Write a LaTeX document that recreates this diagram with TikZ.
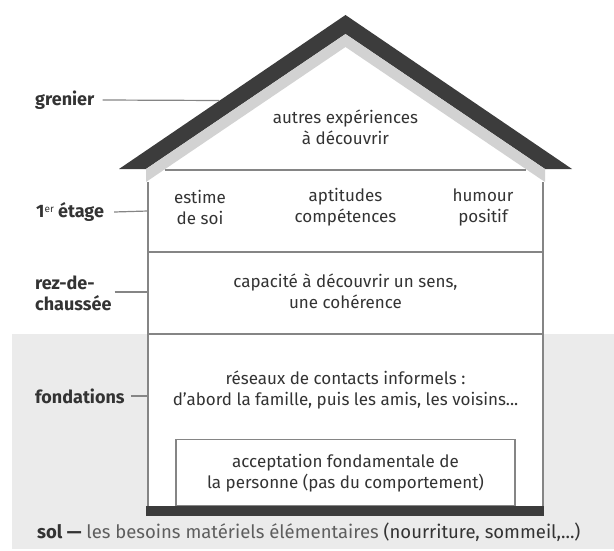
\documentclass[tikz,border=0pt]{standalone}
\usepackage{fontspec}
\setmainfont{Fira Sans}
\definecolor{txt}{HTML}{333333}
\definecolor{lightxt}{HTML}{5E5E5E}
\definecolor{linegray}{HTML}{858585}
\definecolor{roofdark}{HTML}{3C3C3C}
\definecolor{roofmid}{HTML}{D2D2D2}
\definecolor{bggray}{HTML}{EBEBEB}
\tikzset{
  body/.style={font=\fontsize{17}{21}\selectfont, text=txt, align=center, inner sep=0pt},
  lab/.style={font=\fontsize{18}{21}\selectfont\bfseries, text=txt, align=left, anchor=west, inner sep=0pt},
  wall/.style={draw=linegray, line width=1.4pt},
  tick/.style={draw=linegray, line width=1.2pt},
}
\begin{document}
\begin{tikzpicture}[x=1pt,y=-1pt]
\useasboundingbox (0,0) rectangle (614,551);
% ground background
\fill[bggray] (12,334) rectangle (614,549);
% house interior
\fill[white] (148,170) rectangle (543,506);
% roof
\fill[roofdark] (345.5,15) -- (119,169) -- (146,169) -- (345.5,34) -- (545,169) -- (572,169) -- cycle;
\fill[roofmid] (146,169) -- (345.5,34) -- (545,169) -- (545,182) -- (345.5,47) -- (146,182) -- cycle;
% coordinates
\coordinate (cl) at (164.9,170);
\coordinate (cr) at (526.1,170);
\coordinate (wlt) at (148,182);
\coordinate (wrt) at (543,182);
\coordinate (wlb) at (148,506);
\coordinate (wrb) at (543,506);
\coordinate (f1l) at (148,252);
\coordinate (f1r) at (543,252);
\coordinate (f2l) at (148,334);
\coordinate (f2r) at (543,334);
\draw[wall] (cl) -- (cr);
\draw[wall] (wlt) -- (wlb);
\draw[wall] (wrt) -- (wrb);
\draw[wall] (f1l) -- (f1r);
\draw[wall] (f2l) -- (f2r);
% inner box
\node[draw=linegray, line width=1.4pt, fill=white, minimum width=339pt, minimum height=66pt, inner sep=0pt, anchor=south] (box) at (345.5,506) {};
% floor bar
\fill[roofdark] (146,506) rectangle (544,516);
% texts
\node[body] (attic) at (345.5,127) {autres expériences\\à découvrir};
\node[body] (estime) at (200,207) {estime\\de soi};
\node[body] (apt) at (345.5,207) {aptitudes\\compétences};
\node[body] (hum) at (483,207) {humour\\positif};
\node[body] (rez) at (345.5,291) {capacité à découvrir un sens,\\une cohérence};
\node[body] (fond) at (345.5,390) {réseaux de contacts informels :\\d'abord la famille, puis les amis, les voisins...};
\node[body] (acc) at (345.5,473) {acceptation fondamentale de\\la personne (pas du comportement)};
% labels
\node[lab] (lgren) at (35,100) {grenier};
\node[lab] (letage) at (36,212) {1\raisebox{5pt}{\fontsize{10}{10}\selectfont\mdseries er} étage};
\node[lab] (lrez) at (35,293) {rez-de-\\chaussée};
\node[lab] (lfond) at (35,396) {fondations};
\coordinate (roofpt) at (219,100.5);
\coordinate (t1) at (148,211);
\coordinate (t2) at (148,292);
\coordinate (t3) at (148,396);
\draw[tick] ([xshift=8pt]lgren.east) -- (roofpt);
\draw[tick] ([xshift=10pt]letage.east) -- (t1);
\draw[tick] ([xshift=3pt]lrez.east|-t2) -- (t2);
\draw[tick] ([xshift=6pt]lfond.east) -- (t3);
% ground text
\node[anchor=west, inner sep=0pt, font=\fontsize{18.5}{21}\selectfont, text=lightxt] (sol) at (37,532)
  {\textcolor{txt}{\bfseries sol —} les besoins matériels élémentaires \textcolor{txt}{(nourriture, sommeil,...)}};
\end{tikzpicture}
\end{document}
